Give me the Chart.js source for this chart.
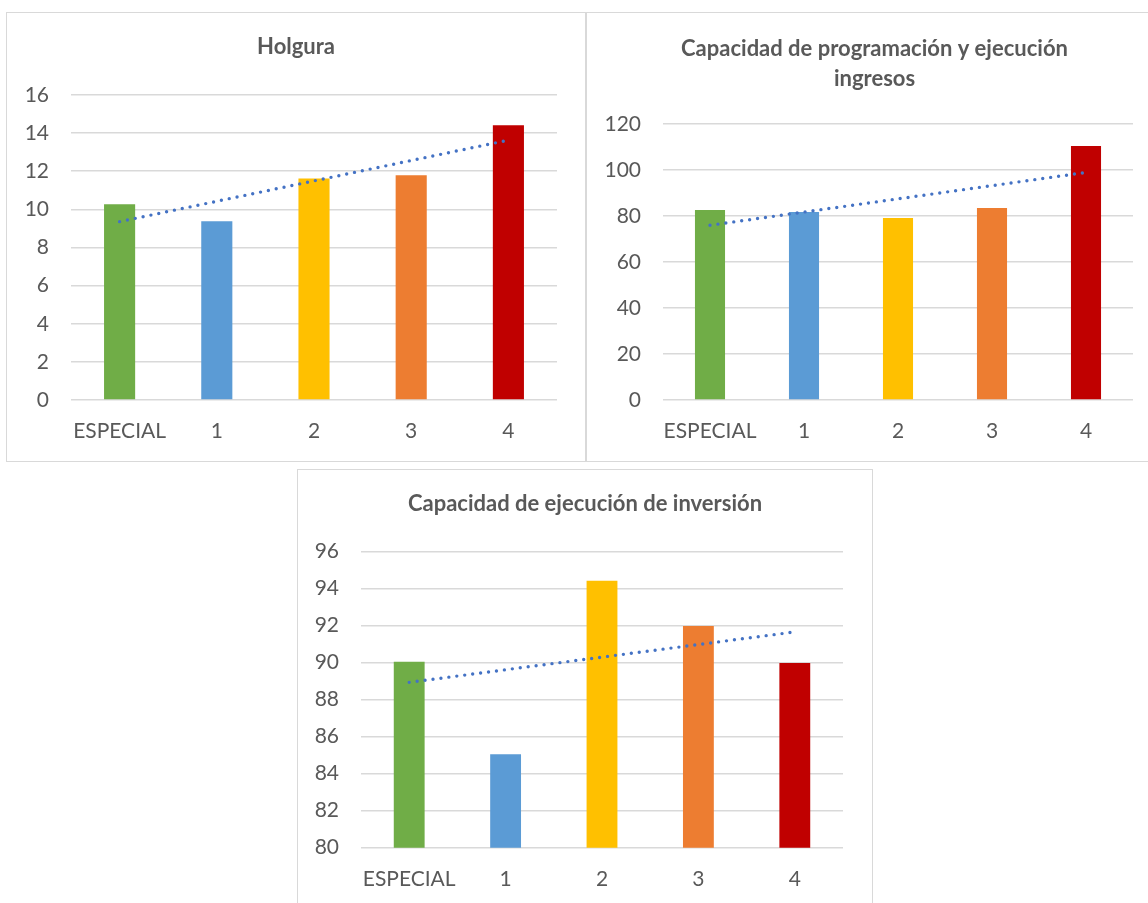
<!DOCTYPE html>
<html lang="es">
<head>
<meta charset="utf-8">
<title>Indicadores por categoría</title>
<script src="https://cdn.jsdelivr.net/npm/chart.js@4.4.1/dist/chart.umd.min.js"></script>
<style>
  html, body { margin: 0; padding: 0; background: #ffffff; }
  body { width: 1148px; height: 903px; position: relative; overflow: hidden; }
  .panel { position: absolute; box-sizing: border-box; border: 1.5px solid #d9d9d9; background: #ffffff; }
  canvas { position: absolute; }
</style>
</head>
<body>
<div class="panel" style="left:6px; top:12px; width:580px; height:450px;"></div>
<div class="panel" style="left:586px; top:12px; width:590px; height:450px;"></div>
<div class="panel" style="left:297px; top:469px; width:576px; height:460px;"></div>
<canvas id="holgura" style="left:6px; top:12px;" width="580" height="450"></canvas>
<canvas id="ingresos" style="left:586px; top:12px;" width="577" height="450"></canvas>
<canvas id="inversion" style="left:297px; top:469px;" width="576" height="434"></canvas>
<script>
// Categories shared by the three charts
const categories = ['ESPECIAL', '1', '2', '3', '4'];

// Series values
const holgura = [10.27, 9.38, 11.62, 11.79, 14.41];
const programacionIngresos = [82.6, 81.7, 79.1, 83.5, 110.4];
const ejecucionInversion = [90.04, 85.05, 94.42, 91.98, 89.98];

// Value-axis ranges: [min, max, step]
const holguraAxis = [0, 16, 2];
const ingresosAxis = [0, 120, 20];
const inversionAxis = [80, 96, 2];

// Titles
const holguraTitle = ['Holgura'];
const ingresosTitle = ['Capacidad de programación y ejecución', 'ingresos'];
const inversionTitle = ['Capacidad de ejecución de inversión'];

const barColors = ['#70AD47', '#5B9BD5', '#FFC000', '#ED7D31', '#C00000'];
const trendColor = '#4472C4';
const textColor = '#595959';
const gridColor = '#d9d9d9';

Chart.defaults.font.family = 'Lato, "Open Sans", sans-serif';
Chart.defaults.color = textColor;

// Least-squares linear trend over the category index
function linearTrend(values) {
  const n = values.length;
  const xs = values.map((_, i) => i);
  const mx = xs.reduce((a, b) => a + b, 0) / n;
  const my = values.reduce((a, b) => a + b, 0) / n;
  let sxy = 0, sxx = 0;
  xs.forEach((x, i) => { sxy += (x - mx) * (values[i] - my); sxx += (x - mx) * (x - mx); });
  const slope = sxy / sxx;
  return xs.map(x => my + slope * (x - mx));
}

function makeChart(id, values, axis, title, geo) {
  const ctx = document.getElementById(id);
  return new Chart(ctx, {
    data: {
      labels: categories,
      datasets: [
        {
          type: 'line',
          data: linearTrend(values),
          borderColor: trendColor,
          borderWidth: 3.4,
          borderDash: [0, 8],
          borderCapStyle: 'round',
          pointRadius: 0,
          fill: false,
          tension: 0,
          order: 0
        },
        {
          type: 'bar',
          data: values,
          backgroundColor: barColors,
          borderWidth: 0,
          barPercentage: 0.32,
          categoryPercentage: 1,
          order: 1
        }
      ]
    },
    options: {
      responsive: false,
      animation: false,
      events: [],
      layout: { padding: 0 },
      plugins: {
        legend: { display: false },
        tooltip: { enabled: false },
        title: {
          display: true,
          text: title,
          color: textColor,
          font: { size: 22, weight: 'bold', lineHeight: geo.titleLH },
          padding: { top: geo.titleTop, bottom: geo.titleBottom }
        }
      },
      scales: {
        x: {
          grid: { display: false, drawTicks: false },
          border: { display: false },
          ticks: { font: { size: 21 }, padding: 19, color: textColor, maxRotation: 0, autoSkip: false },
          afterFit: (s) => { s.height = geo.xHeight; }
        },
        y: {
          position: 'left',
          min: axis[0],
          max: axis[1],
          grid: { color: gridColor, lineWidth: 1.6, drawTicks: false },
          border: { display: false },
          ticks: { stepSize: axis[2], font: { size: 21 }, padding: 22, color: textColor },
          afterFit: (s) => { s.width = geo.yWidth; }
        },
        // empty right-hand margin so the title stays centred on the panel
        margin: {
          position: 'right',
          min: axis[0],
          max: axis[1],
          grid: { display: false, drawTicks: false },
          border: { display: false },
          ticks: { display: false },
          afterFit: (s) => { s.width = geo.rightWidth; }
        }
      }
    }
  });
}

makeChart('holgura', holgura, holguraAxis, holguraTitle,
  { yWidth: 65, rightWidth: 29, xHeight: 62, titleLH: 1.2, titleTop: 22, titleBottom: 34.6 });
makeChart('ingresos', programacionIngresos, ingresosAxis, ingresosTitle,
  { yWidth: 77, rightWidth: 30, xHeight: 62, titleLH: 30 / 22, titleTop: 22, titleBottom: 30 });
makeChart('inversion', ejecucionInversion, inversionAxis, inversionTitle,
  { yWidth: 64, rightWidth: 30, xHeight: 55.3, titleLH: 1.2, titleTop: 22, titleBottom: 34.1 });
</script>
</body>
</html>
